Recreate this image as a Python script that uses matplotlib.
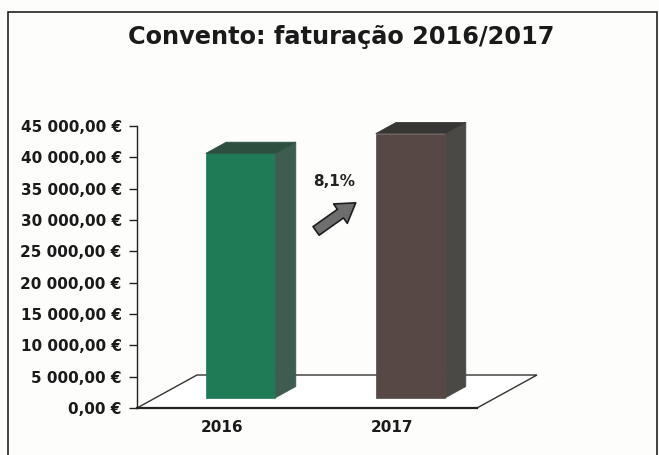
import matplotlib.pyplot as plt
from matplotlib.patches import Polygon, Rectangle, FancyArrowPatch

# data
anos = ['2016', '2017']
faturacao = [39000, 42160]
cores_frente = ['#1f7a56', '#584845']
cores_lado = ['#3e5c50', '#4a4946']
cores_topo = ['#2d4f40', '#383634']

W, H = 659, 455
fig = plt.figure(figsize=(W / 100, H / 100), dpi=100)
fig.patch.set_facecolor('#fdfdfc')

# axes = front edge of the floor (pixels 137..477, 408..126)
ax = fig.add_axes([137 / W, (H - 408) / H, 340 / W, 282 / H])
ax.set_xlim(0, 2)
ax.set_ylim(0, 45000)
ax.patch.set_alpha(0)

# oblique depth of the floor in data units
DX = 60 / 170
DY = 33 * 45000 / 282
f0, f1 = 0.31, 0.65   # bar depth range (fraction of floor depth)
larg = 0.41

# floor
chao = Polygon([(0, 0), (2, 0), (2 + DX, DY), (DX, DY)], closed=True,
               fc='white', ec='#333333', lw=1.0, clip_on=False, zorder=1)
ax.add_patch(chao)
ax.plot([0, 2], [0, 0], color='#222222', lw=1.6, clip_on=False, zorder=2)

for i, v in enumerate(faturacao):
    x0 = i + 0.5 - larg / 2 + f0 * DX
    x1 = x0 + larg
    y0 = f0 * DY
    ddx = (f1 - f0) * DX
    ddy = (f1 - f0) * DY
    frente = Polygon([(x0, y0), (x1, y0), (x1, y0 + v), (x0, y0 + v)],
                     fc=cores_frente[i], ec=cores_frente[i], lw=0.5, clip_on=False, zorder=3)
    lado = Polygon([(x1, y0), (x1 + ddx, y0 + ddy), (x1 + ddx, y0 + ddy + v), (x1, y0 + v)],
                   fc=cores_lado[i], ec=cores_lado[i], lw=0.5, clip_on=False, zorder=3)
    topo = Polygon([(x0, y0 + v), (x1, y0 + v), (x1 + ddx, y0 + ddy + v), (x0 + ddx, y0 + ddy + v)],
                   fc=cores_topo[i], ec=cores_topo[i], lw=0.5, clip_on=False, zorder=3)
    for p in (frente, lado, topo):
        ax.add_patch(p)

# growth label and arrow
cresc = (faturacao[1] / faturacao[0] - 1) * 100
ax.text(1.159, 36100, f'{cresc:.1f}%'.replace('.', ','), ha='center', va='center',
        fontsize=11, fontweight='bold', color='#222222', family='DejaVu Sans')
seta = FancyArrowPatch((1.040, 28000), (1.300, 33000),
                       arrowstyle='simple,head_length=0.75,head_width=0.95,tail_width=0.42',
                       mutation_scale=18, fc='#6e6e6e', ec='#1e1e1e', lw=1.2, zorder=4)
ax.add_patch(seta)

# axes styling
for s in ('top', 'right', 'bottom'):
    ax.spines[s].set_visible(False)
ax.spines['left'].set_color('#222222')
ax.spines['left'].set_linewidth(1.0)
ax.set_yticks(range(0, 45001, 5000))
ax.set_yticklabels([f'{t:,.2f} €'.replace(',', ' ').replace('.', ',') for t in range(0, 45001, 5000)],
                   fontsize=11, fontweight='bold', color='#1a1a1a', family='DejaVu Sans')
ax.tick_params(axis='y', length=6, width=1, color='#222222', pad=5)
ax.set_xticks([0.5, 1.5])
ax.set_xticklabels(anos, fontsize=11, fontweight='bold', color='#1a1a1a', family='DejaVu Sans')
ax.tick_params(axis='x', length=0, pad=9)

fig.text(341 / W, (H - 37) / H, 'Convento: faturação 2016/2017', ha='center', va='center',
         fontsize=17.3, fontweight='bold', color='#1a1a1a', family='DejaVu Sans')

# chart frame
fig.patches.append(Rectangle((8 / W, -0.02), 649 / W, (H - 12) / H + 0.02,
                             transform=fig.transFigure, fill=False, ec='#222222', lw=1.2))

fig.savefig('out.png', dpi=100, facecolor=fig.get_facecolor())
